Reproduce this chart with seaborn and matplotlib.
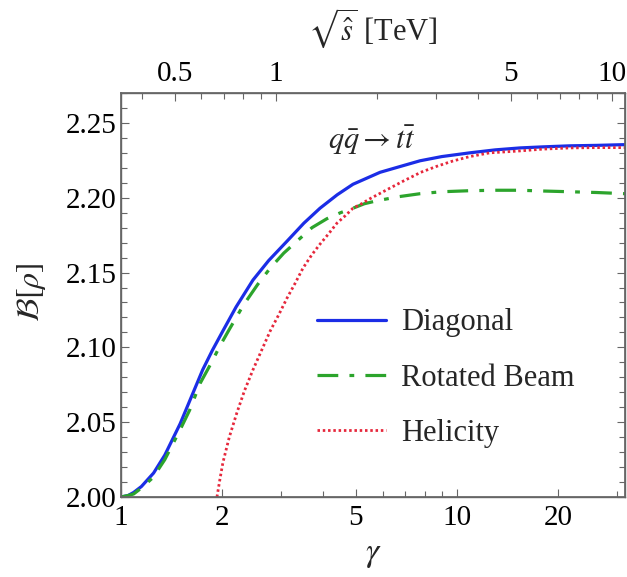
import numpy as np
import pandas as pd
import seaborn as sns
import matplotlib
matplotlib.use("Agg")
import matplotlib.pyplot as plt
from matplotlib.ticker import FixedLocator, NullFormatter, FixedFormatter

# ---------------- data ----------------
gamma_diag = [1.00, 1.05, 1.09, 1.15, 1.25, 1.35, 1.50, 1.62, 1.75, 1.87, 2.01, 2.20, 2.47, 2.75,
              3.12, 3.50, 3.91, 4.40, 4.90, 5.90, 6.80, 7.76, 9.00, 10.9, 13.0, 15.4, 18.0, 21.7, 26.0, 31.6]
b_diag     = [2.000, 2.001, 2.003, 2.007, 2.016, 2.028, 2.049, 2.067, 2.085, 2.098, 2.111, 2.127, 2.145, 2.158,
              2.171, 2.183, 2.193, 2.202, 2.209, 2.217, 2.221, 2.2247, 2.2275, 2.230, 2.232, 2.2333, 2.234, 2.2347, 2.235, 2.2355]

gamma_beam = [1.00, 1.05, 1.09, 1.15, 1.245, 1.35, 1.50, 1.60, 1.72, 1.85, 1.97, 2.10, 2.31, 2.55, 2.78,
              3.05, 3.34, 3.70, 4.10, 4.50, 4.90, 5.30, 5.78, 6.70, 7.76, 9.00, 10.9, 13.0, 15.4, 18.0, 21.7, 26.0, 31.6]
b_beam     = [2.000, 2.001, 2.002, 2.006, 2.013, 2.025, 2.045, 2.058, 2.076, 2.089, 2.101, 2.112, 2.128, 2.142, 2.153,
              2.163, 2.171, 2.180, 2.186, 2.190, 2.193, 2.196, 2.198, 2.2007, 2.2027, 2.204, 2.2047, 2.205, 2.2050, 2.2045, 2.2040, 2.2035, 2.2027]

gamma_hel = [1.93, 1.97, 2.01, 2.10, 2.21, 2.33, 2.47, 2.62, 2.78, 2.95, 3.12, 3.30, 3.48, 3.70, 3.91, 4.15,
             4.39, 4.65, 4.90, 5.20, 5.50, 6.20, 6.90, 7.80, 8.70, 9.70, 10.9, 12.5, 15.4, 18.0, 21.7, 26.0, 31.6]
b_hel     = [2.000, 2.012, 2.023, 2.040, 2.056, 2.071, 2.085, 2.098, 2.111, 2.122, 2.133, 2.143, 2.153, 2.162, 2.169, 2.176,
             2.183, 2.188, 2.193, 2.196, 2.1993, 2.2055, 2.211, 2.217, 2.221, 2.2245, 2.2275, 2.230, 2.2313, 2.2325, 2.2333, 2.2335, 2.2335]

labels = ["Diagonal", "Rotated Beam", "Helicity"]
x_major = [1, 2, 5, 10, 20]
x_minor = [3, 4, 6, 7, 8, 9, 30]
y_major = [2.00, 2.05, 2.10, 2.15, 2.20, 2.25]
top_major = [0.5, 1, 5, 10]
top_minor = [0.4, 0.6, 0.7, 0.8, 0.9, 2, 3, 4, 6, 7, 8, 9]
two_mt = 0.346  # sqrt(s) [TeV] = 2 m_t * gamma
xlim = (1.0, 31.6)
ylim = (2.0, 2.27)

df = pd.concat([
    pd.DataFrame({"gamma": gamma_diag, "B": b_diag, "basis": labels[0]}),
    pd.DataFrame({"gamma": gamma_beam, "B": b_beam, "basis": labels[1]}),
    pd.DataFrame({"gamma": gamma_hel, "B": b_hel, "basis": labels[2]}),
])

# ---------------- style ----------------
sns.set_theme(style="ticks")
plt.rcParams["font.family"] = ["Liberation Serif", "DejaVu Serif"]
plt.rcParams["mathtext.fontset"] = "stix"
frame_col = "#666666"

fig = plt.figure(figsize=(6.27, 5.77), dpi=100)
ax = fig.add_axes([121/627, 1-497/577, (625-121)/627, (497-93)/577])

colors = {"Diagonal": "#1b2de6", "Rotated Beam": "#2ca42c", "Helicity": "#e6283c"}
styles = {"Diagonal": dict(lw=2.3),
          "Rotated Beam": dict(lw=2.3, ls=(0, (6.5, 3.5, 1.5, 3.5))),
          "Helicity": dict(lw=2.0, ls=(0, (0.9, 1.0)))}

for lab in labels:
    sub = df[df["basis"] == lab]
    sns.lineplot(data=sub, x="gamma", y="B", ax=ax, color=colors[lab],
                 label=lab, sort=False, estimator=None, **styles[lab])

ax.set_xscale("log")
ax.set_xlim(*xlim)
ax.set_ylim(*ylim)

ax.xaxis.set_major_locator(FixedLocator(x_major))
ax.xaxis.set_major_formatter(FixedFormatter([str(v) for v in x_major]))
ax.xaxis.set_minor_locator(FixedLocator(x_minor))
ax.xaxis.set_minor_formatter(NullFormatter())
ax.yaxis.set_major_locator(FixedLocator(y_major))
ax.yaxis.set_major_formatter(FixedFormatter([f"{v:.2f}" for v in y_major]))
ax.yaxis.set_minor_locator(FixedLocator(list(np.round(np.arange(2.0, 2.271, 0.01), 2))))

ax.tick_params(axis="both", which="both", direction="in", colors=frame_col,
               labelcolor="black", labelsize=21, width=0.8)
ax.tick_params(axis="y", which="both", right=True)
ax.tick_params(axis="both", which="major", length=6)
ax.tick_params(axis="both", which="minor", length=4)
ax.tick_params(axis="x", which="both", top=False, pad=6)
ax.tick_params(axis="y", which="major", pad=3)
for s in ax.spines.values():
    s.set_color(frame_col)
    s.set_linewidth(1.0)

# top axis in sqrt(s)
ax2 = ax.twiny()
ax2.set_xscale("log")
ax2.set_xlim(xlim[0]*two_mt, xlim[1]*two_mt)
ax2.xaxis.set_major_locator(FixedLocator(top_major))
ax2.xaxis.set_major_formatter(FixedFormatter([f"{v:g}" for v in top_major]))
ax2.xaxis.set_minor_locator(FixedLocator(top_minor))
ax2.xaxis.set_minor_formatter(NullFormatter())
ax2.tick_params(axis="x", which="both", direction="in", colors=frame_col,
                labelcolor="black", labelsize=21, width=0.8, pad=4)
ax2.tick_params(axis="x", which="major", length=6)
ax2.tick_params(axis="x", which="minor", length=4)
for s in ax2.spines.values():
    s.set_color(frame_col)
ax2.set_xlabel(r"$\sqrt{\hat{s}}$ [TeV]", fontsize=22)
ax2.xaxis.set_label_coords(0.5, (497-28)/404)
ax2.xaxis.label.set_va("center")

ax.set_xlabel(r"$\gamma$", fontsize=24)
ax.xaxis.set_label_coords(0.5, (497-555)/404)
ax.xaxis.label.set_va("center")
ax.set_ylabel(r"$\mathcal{B}[\rho]$", fontsize=23)
ax.yaxis.set_label_coords((32-121)/504, (497-292)/404)
ax.yaxis.label.set_va("center")

ax.text((372-121)/504, (497-140)/404, r"$q\bar{q} \rightarrow t\bar{t}$",
        transform=ax.transAxes, ha="center", va="center", fontsize=22)

leg = ax.legend(loc="center left", bbox_to_anchor=((317-121)/504, (497-378)/404),
                frameon=False, fontsize=22, handlelength=2.25, handletextpad=0.5,
                labelspacing=0.86, borderpad=0, borderaxespad=0)

fig.savefig("out.png", dpi=100)
